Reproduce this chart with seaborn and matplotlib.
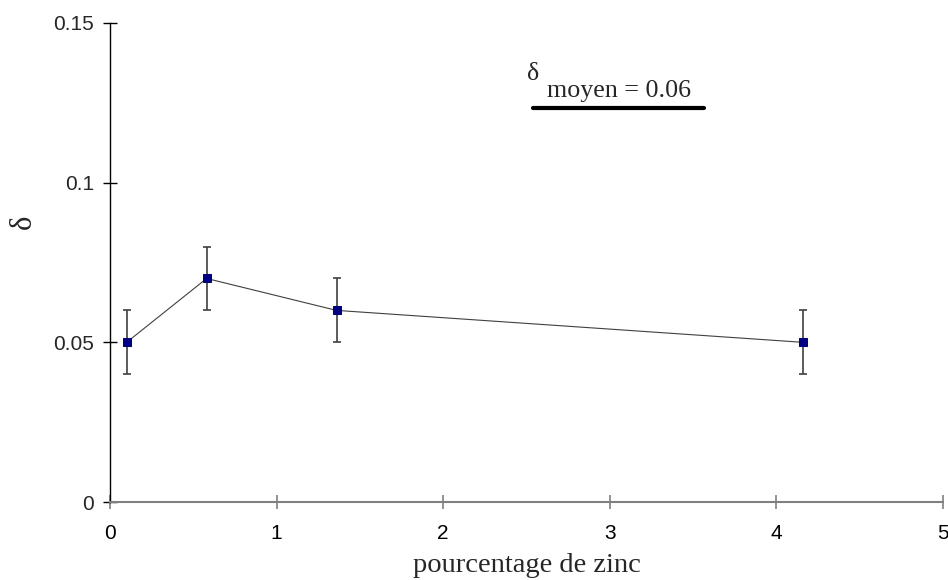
# load packages
import numpy as np
import pandas as pd
import seaborn as sns
import matplotlib.pyplot as plt
from matplotlib.lines import Line2D

# data
zinc = [0.1, 0.58, 1.36, 4.16]
delta = [0.05, 0.07, 0.06, 0.05]
delta_err = [0.01, 0.01, 0.01, 0.01]
xticks = [0, 1, 2, 3, 4, 5]
yticks = [0, 0.05, 0.1, 0.15]
ytick_labels = ['0', '0.05', '0.1', '0.15']
delta_moyen = 0.06

df = pd.DataFrame({'zinc': zinc, 'delta': delta, 'err': delta_err})

sns.set_style('white')
plt.rcParams['font.family'] = ['Liberation Sans', 'DejaVu Sans']

fig = plt.figure(figsize=(9.48, 5.8), dpi=100)
ax = fig.add_axes([110 / 948, 78 / 580, 833 / 948, 479 / 580])

# line + markers
sns.lineplot(data=df, x='zinc', y='delta', ax=ax, color='#404040', lw=0.8,
             marker='s', markersize=6, markerfacecolor='#000080',
             markeredgecolor='#000080', zorder=3)
ax.errorbar(df['zinc'], df['delta'], yerr=df['err'], fmt='none',
            ecolor='#404040', elinewidth=1.2, capsize=3, capthick=1.2, zorder=2)

ax.set_xlim(0, 5)
ax.set_ylim(0, 0.15)
ax.set_xticks(xticks)
ax.set_xticklabels([str(t) for t in xticks])
ax.set_yticks(yticks)
ax.set_yticklabels(ytick_labels)

for s in ['top', 'right']:
    ax.spines[s].set_visible(False)
ax.spines['left'].set_color('black')
ax.spines['bottom'].set_color('#808080')
ax.spines['left'].set_linewidth(1.0)
ax.spines['bottom'].set_linewidth(1.5)
ax.tick_params(axis='y', direction='inout', length=9.4, width=1.0, color='black',
               labelsize=15, pad=6.8)
ax.tick_params(axis='x', direction='inout', length=9.4, width=1.2, color='#808080',
               labelsize=15, pad=11, labelcolor='black')
ax.tick_params(left=True, bottom=True)

ax.set_xlabel('pourcentage de zinc', family='Liberation Serif', fontsize=20.5, labelpad=7)
ax.set_ylabel('\u03b4', family='Liberation Serif', fontsize=22)
ax.yaxis.set_label_coords(-0.086, 0.585)

# annotation: delta moyen
ax.text(0.5006, 0.881, '\u03b4', transform=ax.transAxes, family='Liberation Serif',
        fontsize=18.5, ha='left', va='baseline')
ax.text(0.5246, 0.8455, 'moyen = %.2f' % delta_moyen, transform=ax.transAxes,
        family='Liberation Serif', fontsize=18.7, ha='left', va='baseline')
ax.add_line(Line2D([0.5078, 0.7131], [0.8225, 0.8225], transform=ax.transAxes,
                   color='black', lw=3))

plt.savefig('out.png', dpi=100)
